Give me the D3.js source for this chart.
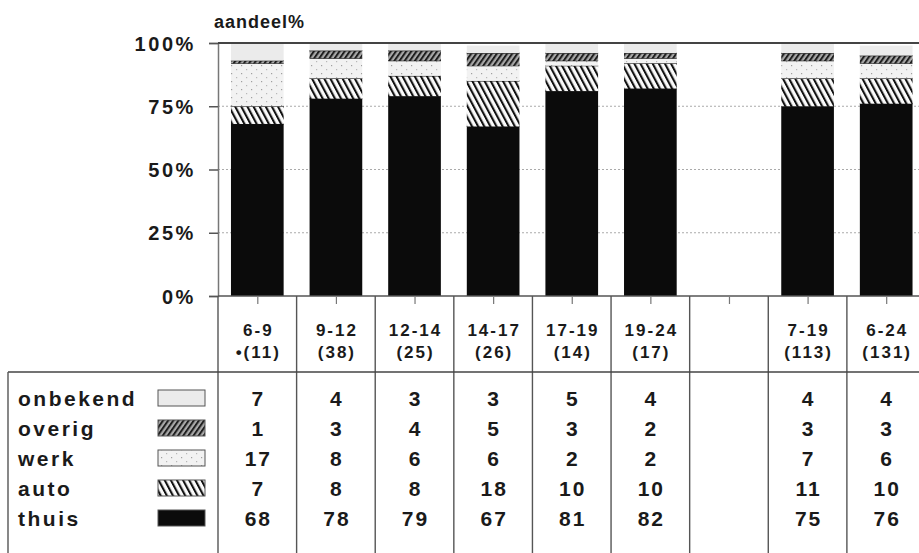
<!DOCTYPE html>
<html>
<head>
<meta charset="utf-8">
<script src="https://cdn.jsdelivr.net/npm/d3@7"></script>
<style>
  html, body { margin: 0; padding: 0; background: #fff; }
  svg { display: block; }
  text { font-family: "Liberation Sans", Arial, Helvetica, sans-serif; fill: #1a1a1a; }
</style>
</head>
<body>
<svg id="chart" width="919" height="553"></svg>
<script>
// ---- data ----
const categories = ["6-9", "9-12", "12-14", "14-17", "17-19", "19-24", "", "7-19", "6-24"];
const counts     = ["•(11)", "(38)", "(25)", "(26)", "(14)", "(17)", "", "(113)", "(131)"];
const seriesKeys   = ["thuis", "auto", "werk", "overig", "onbekend"];   // bottom -> top
const tableOrder   = ["onbekend", "overig", "werk", "auto", "thuis"];   // table rows, top -> bottom
const thuis    = [68, 78, 79, 67, 81, 82, null, 75, 76];
const auto     = [7, 8, 8, 18, 10, 10, null, 11, 10];
const werk     = [17, 8, 6, 6, 2, 2, null, 7, 6];
const overig   = [1, 3, 4, 5, 3, 2, null, 3, 3];
const onbekend = [7, 4, 3, 3, 5, 4, null, 4, 4];
const yTicks = [0, 25, 50, 75, 100];
const yTitle = "aandeel%";

const seriesValues = { thuis, auto, werk, overig, onbekend };
const rows = categories.map((c, i) => {
  const r = { cat: c, idx: i };
  seriesKeys.forEach(k => r[k] = seriesValues[k][i] == null ? 0 : seriesValues[k][i]);
  r.empty = seriesValues.thuis[i] == null;
  return r;
});

// ---- layout ----
const svg = d3.select("#chart");
const plotLeft = 218, plotRight = 925.5, plotTop = 43, plotBottom = 296;
const tableTop = 372, tableLeft = 8, tableBottom = 553;
const rowY0 = 398, rowStep = 30;

const xCol = d3.scaleBand().domain(d3.range(categories.length)).range([plotLeft, plotRight]).padding(0);
const xBar = d3.scaleBand().domain(d3.range(categories.length)).range([plotLeft, plotRight])
  .paddingInner(0.33).paddingOuter(0.165);
const y = d3.scaleLinear().domain([0, 100]).range([plotBottom, plotTop]).clamp(true);

// ---- patterns ----
const defs = svg.append("defs");
const pAuto = defs.append("pattern").attr("id", "p-auto").attr("patternUnits", "userSpaceOnUse")
  .attr("width", 5.4).attr("height", 20).attr("patternTransform", "rotate(-28)");
pAuto.append("rect").attr("width", 5.4).attr("height", 20).attr("fill", "#fafafa");
pAuto.append("rect").attr("width", 2.1).attr("height", 20).attr("fill", "#111");

const pOverig = defs.append("pattern").attr("id", "p-overig").attr("patternUnits", "userSpaceOnUse")
  .attr("width", 4.2).attr("height", 20).attr("patternTransform", "rotate(35)");
pOverig.append("rect").attr("width", 4.2).attr("height", 20).attr("fill", "#a8a8a8");
pOverig.append("rect").attr("width", 2).attr("height", 20).attr("fill", "#1e1e1e");

const pWerk = defs.append("pattern").attr("id", "p-werk").attr("patternUnits", "userSpaceOnUse")
  .attr("width", 10).attr("height", 8);
pWerk.append("rect").attr("width", 10).attr("height", 8).attr("fill", "#f2f2f2");
pWerk.append("rect").attr("x", 1).attr("y", 1).attr("width", 1.2).attr("height", 1.2).attr("fill", "#a0a0a0");
pWerk.append("rect").attr("x", 6).attr("y", 5).attr("width", 1.2).attr("height", 1.2).attr("fill", "#b8b8b8");

const fills = {
  thuis: "#0b0b0b",
  auto: "url(#p-auto)",
  werk: "url(#p-werk)",
  overig: "url(#p-overig)",
  onbekend: "#ebebeb"
};

// ---- gridlines ----
svg.append("g").selectAll("line").data(yTicks.filter(t => t > 0 && t < 100)).join("line")
  .attr("x1", plotLeft).attr("x2", 919)
  .attr("y1", d => y(d)).attr("y2", d => y(d))
  .attr("stroke", "#aaa").attr("stroke-width", 1).attr("stroke-dasharray", "2,2");

// ---- bars ----
const stack = d3.stack().keys(seriesKeys)(rows.filter(r => !r.empty));
const barG = svg.append("g");
stack.forEach(layer => {
  const key = layer.key;
  barG.append("g").selectAll("rect").data(layer).join("rect")
    .attr("x", d => xBar(d.data.idx))
    .attr("width", xBar.bandwidth())
    .attr("y", d => y(d[1]))
    .attr("height", d => Math.max(0, y(d[0]) - y(d[1])))
    .attr("fill", fills[key]);
  if (key !== "onbekend") {
    barG.append("g").selectAll("line").data(layer).join("line")
      .attr("x1", d => xBar(d.data.idx)).attr("x2", d => xBar(d.data.idx) + xBar.bandwidth())
      .attr("y1", d => y(d[1])).attr("y2", d => y(d[1]))
      .attr("stroke", "#111").attr("stroke-width", 1.2);
  }
});

// ---- axes ----
const yAxis = d3.axisLeft(y).tickValues(yTicks).tickFormat(d => d + "%").tickSize(9).tickPadding(13);
const gy = svg.append("g").attr("transform", `translate(${plotLeft},0)`).call(yAxis);
gy.select(".domain").attr("stroke", "#777").attr("stroke-width", 1.5);
gy.selectAll(".tick line").attr("stroke", "#555").attr("stroke-width", 1.5);
gy.selectAll(".tick text").attr("font-size", 20).attr("font-weight", "bold")
  .attr("letter-spacing", "2.6px").attr("fill", "#1a1a1a").attr("dy", "0.36em");

// top frame line and baseline
svg.append("line").attr("x1", plotLeft).attr("x2", 919).attr("y1", y(100)).attr("y2", y(100))
  .attr("stroke", "#444").attr("stroke-width", 2);
svg.append("line").attr("x1", plotLeft).attr("x2", 919).attr("y1", y(0)).attr("y2", y(0))
  .attr("stroke", "#555").attr("stroke-width", 1.5);

// x ticks
const xAxis = d3.axisBottom(d3.scalePoint().domain(d3.range(categories.length)).range([xCol(0) + xCol.bandwidth() / 2, xCol(categories.length - 1) + xCol.bandwidth() / 2]))
  .tickSize(7).tickFormat("");
const gx = svg.append("g").attr("transform", `translate(0,${plotBottom + 1})`).call(xAxis);
gx.select(".domain").remove();
gx.selectAll(".tick line").attr("stroke", "#777").attr("stroke-width", 1.2);

// y title
svg.append("text").attr("x", 214).attr("y", 28).attr("font-size", 18).attr("font-weight", "bold")
  .attr("letter-spacing", "1px").text(yTitle);

// ---- table ----
const tg = svg.append("g");
const bounds = d3.range(categories.length).map(i => xCol(i));
tg.selectAll("line.v").data(bounds).join("line").attr("class", "v")
  .attr("x1", d => d).attr("x2", d => d).attr("y1", plotBottom).attr("y2", tableBottom)
  .attr("stroke", "#555").attr("stroke-width", 1.4);
tg.append("line").attr("x1", tableLeft).attr("x2", 919).attr("y1", tableTop).attr("y2", tableTop)
  .attr("stroke", "#444").attr("stroke-width", 1.6);
tg.append("line").attr("x1", tableLeft).attr("x2", tableLeft).attr("y1", tableTop).attr("y2", tableBottom)
  .attr("stroke", "#555").attr("stroke-width", 1.4);

// header labels
tg.selectAll("text.cat").data(categories).join("text").attr("class", "cat")
  .attr("x", (d, i) => xCol(i) + xCol.bandwidth() / 2 + 1).attr("y", 336)
  .attr("text-anchor", "middle").attr("font-size", 17).attr("font-weight", "bold")
  .attr("letter-spacing", "2px").text(d => d);
tg.selectAll("text.cnt").data(counts).join("text").attr("class", "cnt")
  .attr("x", (d, i) => xCol(i) + xCol.bandwidth() / 2 + 1).attr("y", 358)
  .attr("text-anchor", "middle").attr("font-size", 17).attr("font-weight", "bold")
  .attr("letter-spacing", "2px").text(d => d);

// rows
tableOrder.forEach((key, r) => {
  const cy = rowY0 + r * rowStep;
  tg.append("text").attr("x", 18).attr("y", cy + 7.5).attr("font-size", 21).attr("font-weight", "bold")
    .attr("letter-spacing", "2.5px").text(key);
  tg.append("rect").attr("x", 158).attr("y", cy - 8).attr("width", 47).attr("height", 16)
    .attr("fill", fills[key]).attr("stroke", "#555").attr("stroke-width", 1);
  tg.append("g").selectAll("text").data(seriesValues[key]).join("text")
    .attr("x", (d, i) => xCol(i) + xCol.bandwidth() / 2 + 1).attr("y", cy + 7.5)
    .attr("text-anchor", "middle").attr("font-size", 21).attr("font-weight", "bold")
    .attr("letter-spacing", "2px").text(d => d == null ? "" : d);
});
</script>
</body>
</html>
